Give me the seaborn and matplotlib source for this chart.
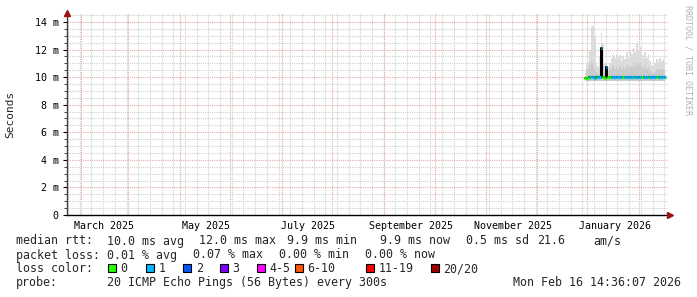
import matplotlib
matplotlib.use("Agg")
import matplotlib.pyplot as plt
import matplotlib.dates as mdates
from matplotlib.patches import Rectangle
import numpy as np
import pandas as pd
import seaborn as sns

# ---------------- data ----------------
start_date = "2025-12-14"
median_ms = [9.9, 9.9, 9.9, 10.0, 10.0, 10.0, 9.9, 10.0, 10.0, 10.0,
             12.1, 10.0, 9.9, 10.7, 10.0, 10.0, 10.0, 10.0, 10.0, 10.0,
             10.0, 10.0, 10.0, 10.0, 10.0, 10.0, 10.0, 10.0, 10.0, 10.0,
             10.0, 10.0, 10.0, 10.0, 10.0, 10.0, 10.0, 10.0, 10.0, 10.0,
             10.0, 10.0, 10.0, 10.0, 10.0, 10.0, 10.0, 10.0, 10.0]
loss_idx = [0, 0, 0, 1, 0, 1, 1, 0, 1, 1,
            1, 0, 0, 1, 0, 0, 1, 1, 1, 1,
            1, 1, 1, 0, 1, 1, 1, 1, 1, 0,
            1, 1, 1, 1, 0, 1, 1, 1, 0, 1,
            1, 1, 1, 0, 1, 1, 1, 0, 1]
smoke_max_ms = [10.3, 11.0, 11.2, 12.0, 13.6, 13.7, 13.0, 11.0, 10.8, 11.5,
                13.2, 12.5, 11.0, 11.2, 10.7, 11.0, 11.3, 11.6, 11.4, 11.7,
                11.5, 11.6, 11.2, 11.5, 11.3, 11.8, 11.4, 11.9, 11.7, 12.1,
                11.8, 12.5, 11.9, 12.2, 11.6, 11.3, 11.8, 11.4, 11.7, 11.2,
                10.9, 10.8, 11.0, 11.3, 11.1, 11.4, 11.2, 11.3, 11.1]
smoke_mid_ms = [10.1, 10.5, 10.6, 10.9, 11.2, 11.0, 10.6, 10.4, 10.3, 10.6,
                11.5, 10.9, 10.4, 10.8, 10.3, 10.5, 10.6, 10.8, 10.6, 10.7,
                10.6, 10.8, 10.5, 10.7, 10.6, 10.9, 10.6, 10.8, 10.7, 11.0,
                10.8, 11.0, 10.8, 11.0, 10.7, 10.5, 10.8, 10.6, 10.7, 10.5,
                10.3, 10.3, 10.4, 10.6, 10.5, 10.6, 10.5, 10.6, 10.5]
smoke_min_ms = [9.8, 9.7, 9.7, 9.7, 9.7, 9.7, 9.7, 9.7, 9.7, 9.7,
                9.7, 9.7, 9.7, 9.7, 9.7, 9.7, 9.7, 9.7, 9.7, 9.7,
                9.7, 9.7, 9.7, 9.7, 9.7, 9.7, 9.7, 9.7, 9.7, 9.7,
                9.7, 9.7, 9.7, 9.7, 9.7, 9.7, 9.7, 9.7, 9.7, 9.7,
                9.7, 9.7, 9.7, 9.7, 9.7, 9.7, 9.7, 9.7, 9.7]

loss_labels = ["0", "1", "2", "3", "4-5", "6-10", "11-19", "20/20"]
loss_colors = ["#26ff00", "#00b8ff", "#0059ff", "#7e00ff",
               "#ff00ff", "#ff5500", "#ff0000", "#a10000"]

y_ticks = [0, 2, 4, 6, 8, 10, 12, 14]
x_tick_dates = ["2025-03-01", "2025-05-01", "2025-07-01",
                "2025-09-01", "2025-11-01", "2026-01-01"]

legend_line1 = [("median rtt:", 16), ("10.0 ms avg", 107), ("12.0 ms max", 199),
                ("9.9 ms min", 287), ("9.9 ms now", 380), ("0.5 ms sd", 466),
                ("21.6", 537), ("am/s", 593)]
legend_line2 = [("packet loss:", 16), ("0.01 % avg", 107), ("0.07 % max", 193),
                ("0.00 % min", 279), ("0.00 % now", 365)]
probe_text = "20 ICMP Echo Pings (56 Bytes) every 300s"
stamp_text = "Mon Feb 16 14:36:07 2026"

# ---------------- figure ----------------
sns.set_style("white")
plt.rcParams["font.family"] = ["DejaVu Sans Mono"]

W, H = 697, 297
fig = plt.figure(figsize=(W / 100, H / 100), dpi=100)
fig.patch.set_facecolor("white")
L, R, B, T = 67, 668, 215, 13
ax = fig.add_axes([L / W, 1 - B / H, (R - L) / W, (B - T) / H])
ax.set_facecolor("white")

dates = pd.date_range(start_date, periods=len(median_ms), freq="D")
df = pd.DataFrame({"date": dates, "median": median_ms, "loss": loss_idx,
                   "smax": smoke_max_ms, "smid": smoke_mid_ms, "smin": smoke_min_ms})

xmin = mdates.date2num(pd.Timestamp("2025-02-06 20:00"))
xmax = mdates.date2num(pd.Timestamp("2026-02-01 18:00"))
ax.set_xlim(xmin, xmax)
ax.set_ylim(0, 14.65)

# grid (manual, dotted)
dot = (0, (1, 1))
for d in pd.date_range("2025-01-03 12:00", "2026-03-01", freq="7D"):
    ax.axvline(mdates.date2num(d), color="#d0d0d0", lw=0.8, ls=dot, zorder=0)
for m in pd.date_range("2025-02-01", "2026-03-01", freq="MS"):
    d = m + pd.Timedelta(days=14, hours=12)
    ax.axvline(mdates.date2num(d), color="#e8a8a8", lw=0.8, ls=dot, zorder=0.5)
ax.set_yticks(y_ticks)
ax.set_yticks(np.arange(0, 14.6, 0.5), minor=True)
ax.grid(False)
ax.yaxis.grid(True, which="minor", color="#d0d0d0", lw=0.8, ls=dot, zorder=0)
ax.yaxis.grid(True, which="major", color="#e8a8a8", lw=0.8, ls=dot, zorder=0.5)
ax.set_axisbelow(True)

# smoke
ax.fill_between(df["date"], df["smin"], df["smax"], step="mid",
                color="#dcdcdc", lw=0, zorder=2)
ax.fill_between(df["date"], df["smin"], df["smid"], step="mid",
                color="#cbcbcb", lw=0, zorder=2.1)

# median black line
sns.lineplot(data=df, x="date", y="median", ax=ax, color="black", lw=1.4,
             drawstyle="steps-mid", estimator=None, zorder=3)

# loss coloured median segments
half = pd.Timedelta(hours=12)
ax.hlines(df["median"], mdates.date2num(df["date"] - half),
          mdates.date2num(df["date"] + half),
          colors=[loss_colors[i] for i in df["loss"]], lw=2.4, zorder=4)

ax.set_xlim(xmin, xmax)

# ticks
ax.set_yticklabels(["0" if v == 0 else f"{v} m" for v in y_ticks])
ax.set_xticks(mdates.date2num(pd.to_datetime(x_tick_dates)))
ax.set_xticklabels([pd.Timestamp(d).strftime("%B %Y") for d in x_tick_dates])
ax.tick_params(axis="x", length=0, pad=4, labelsize=7.2, colors="black")
ax.tick_params(axis="y", which="major", length=3, width=0.8, pad=3,
               labelsize=7.2, colors="black", left=True)
ax.tick_params(axis="y", which="minor", length=2, width=0.6, left=True)
ax.set_xlabel("")
ax.set_ylabel("")

for s in ["top", "right"]:
    ax.spines[s].set_visible(False)
ax.spines["left"].set_color("#404040")
ax.spines["left"].set_linewidth(1.0)
ax.spines["bottom"].set_color("black")
ax.spines["bottom"].set_linewidth(1.0)

# axis arrows
ax.plot([0], [1.0], marker="^", color="#a01010", markersize=4,
        transform=ax.transAxes, clip_on=False, zorder=10)
ax.plot([1.004], [0], marker=">", color="#a01010", markersize=4,
        transform=ax.transAxes, clip_on=False, zorder=10)

# y label & watermark
fig.text(10 / W, 1 - 114 / H, "Seconds", rotation=90, ha="center",
         va="center", fontsize=8)
fig.text(688 / W, 1 - 60 / H, "RRDTOOL / TOBI OETIKER", rotation=270,
         ha="center", va="center", fontsize=6, color="#b0b0b0")

# legend text
fs = 8.4
def ftext(x, ybase, s, **kw):
    fig.text(x / W, 1 - ybase / H, s, ha="left", va="baseline", fontsize=fs, **kw)

for s, x in legend_line1:
    ftext(x, 244.5, s)
for s, x in legend_line2:
    ftext(x, 258.5, s)
ftext(16, 272, "loss color:")
box_x = [108, 145.7, 183.3, 220, 257.3, 295, 365.7, 430.7]
for lab, col, bx in zip(loss_labels, loss_colors, box_x):
    fig.add_artist(Rectangle((bx / W, 1 - 272 / H), 8 / W, 8 / H,
                             transform=fig.transFigure, facecolor=col,
                             edgecolor="black", lw=0.8))
    ftext(bx + 12.5, 272, lab)
ftext(16, 286, "probe:")
ftext(107, 286, probe_text)
ftext(513, 286, stamp_text)

fig.savefig("out.png", dpi=100, facecolor="white")
